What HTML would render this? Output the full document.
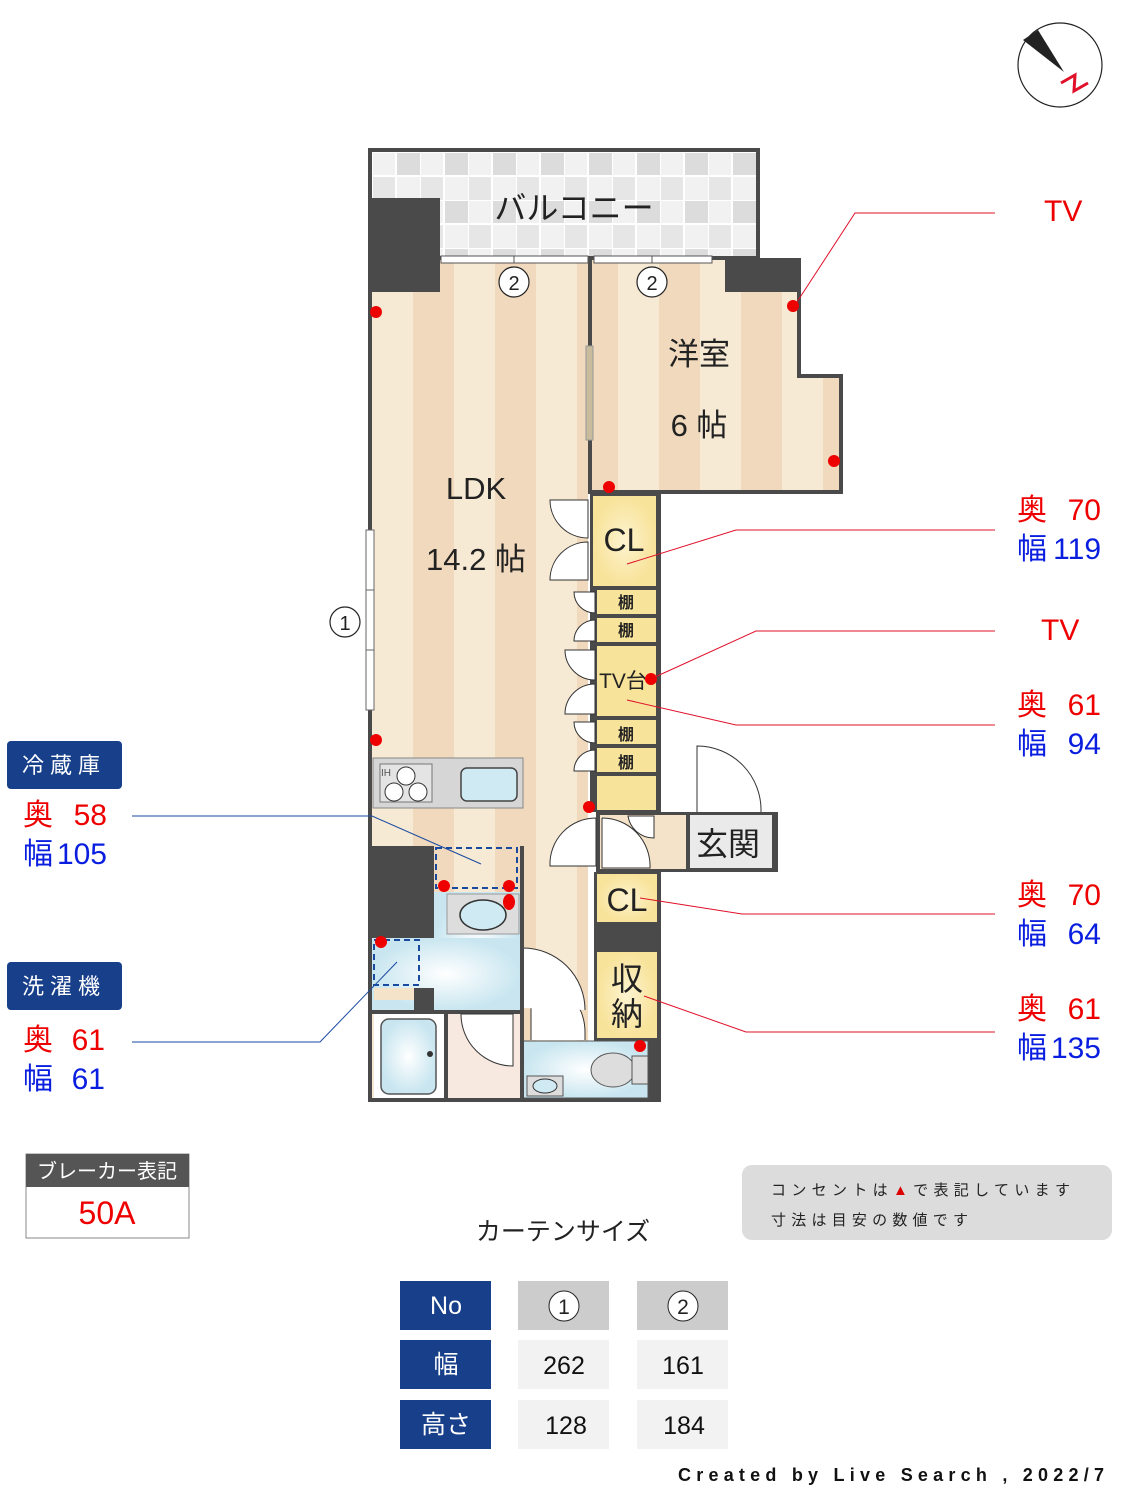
<!DOCTYPE html>
<html><head><meta charset="utf-8"><style>
html,body{margin:0;padding:0;background:#fff;}
svg{display:block;}
text{font-family:"Liberation Sans","Noto Sans CJK JP",sans-serif;}
</style></head><body>
<svg width="1125" height="1500" viewBox="0 0 1125 1500" xmlns="http://www.w3.org/2000/svg">
<defs>
<pattern id="st" x="372" y="0" width="82" height="10" patternUnits="userSpaceOnUse">
<rect width="82" height="10" fill="#f7ead5"/><rect x="41" width="41" height="10" fill="#f0d9bc"/>
</pattern>
<pattern id="tile" x="372" y="152" width="48" height="48" patternUnits="userSpaceOnUse">
<rect width="48" height="48" fill="#f1f1f1"/><rect x="24" y="0" width="24" height="24" fill="#dcdcdc"/><rect x="0" y="24" width="24" height="24" fill="#e6e6e6"/>
<path d="M0 0H48M0 24H48M0 0V48M24 0V48" stroke="#fff" stroke-width="2"/>
</pattern>
<radialGradient id="yl"><stop offset="0" stop-color="#fdf3cf"/><stop offset="1" stop-color="#f8e39a"/></radialGradient>
<radialGradient id="bl"><stop offset="0" stop-color="#ffffff"/><stop offset="1" stop-color="#c9e6f0"/></radialGradient>
</defs>

<!-- compass -->
<circle cx="1060" cy="65" r="42" fill="#fff" stroke="#222" stroke-width="1.2"/>
<path d="M1023 40 L1038 30 L1064 72 Z" fill="#222"/>
<path d="M1061 83 L1075 75 L1074 91 L1088 83" fill="none" stroke="#e0102a" stroke-width="3"/>

<!-- balcony -->
<rect x="370" y="150" width="388" height="108" fill="url(#tile)" stroke="#4a4a4a" stroke-width="4"/>
<text x="574" y="219" font-size="32" text-anchor="middle" fill="#222">バルコニー</text>

<rect x="372" y="260" width="216" height="840" fill="url(#st)"/>
<path d="M592 260 H798 V378 H840 V491 H592 Z" fill="url(#st)"/>
<path d="M370 150 V1100 H659 V492" fill="none" stroke="#4a4a4a" stroke-width="4"/>
<path d="M590 258 V492 H841 V376 H799 V258" fill="none" stroke="#4a4a4a" stroke-width="4"/>
<rect x="372" y="198" width="68" height="94" fill="#4a4a4a"/>
<rect x="725" y="258" width="75" height="34" fill="#4a4a4a"/>
<rect x="441" y="256" width="147" height="7" fill="#fff" stroke="#555" stroke-width="1"/>
<line x1="514" y1="256" x2="514" y2="263" stroke="#555"/>
<rect x="594" y="256" width="118" height="7" fill="#fff" stroke="#555" stroke-width="1"/>
<line x1="652" y1="256" x2="652" y2="263" stroke="#555"/>
<rect x="586" y="346" width="7" height="94" fill="#c8bc9c" stroke="#999"/>
<rect x="366" y="530" width="8" height="180" fill="#fff" stroke="#666"/>
<line x1="366" y1="590" x2="374" y2="590" stroke="#666"/><line x1="366" y1="650" x2="374" y2="650" stroke="#666"/>

<g fill="#fff" stroke="#222" stroke-width="1.2">
<circle cx="514" cy="282" r="15"/><circle cx="652" cy="282" r="15"/><circle cx="345" cy="622" r="15"/>
</g>
<g font-size="20" text-anchor="middle" fill="#222">
<text x="514" y="290">2</text><text x="652" y="290">2</text><text x="345" y="630">1</text>
</g>

<text x="476" y="499" font-size="31" text-anchor="middle" fill="#222">LDK</text>
<text x="476" y="570" font-size="31" text-anchor="middle" fill="#222">14.2 帖</text>
<text x="699" y="365" font-size="31" text-anchor="middle" fill="#222">洋室</text>
<text x="699" y="436" font-size="31" text-anchor="middle" fill="#222">6 帖</text>

<rect x="590" y="492" width="69" height="320" fill="#4a4a4a"/>
<rect x="593" y="496" width="63" height="90" fill="url(#yl)"/>
<rect x="597" y="590" width="59" height="24" fill="#f8e39a"/>
<rect x="597" y="618" width="59" height="24" fill="#f8e39a"/>
<rect x="597" y="646" width="59" height="70" fill="#f8e39a"/>
<rect x="597" y="720" width="59" height="24" fill="#f8e39a"/>
<rect x="597" y="748" width="59" height="24" fill="#f8e39a"/>
<rect x="597" y="776" width="59" height="34" fill="#f8e39a"/>
<text x="624" y="551" font-size="32" text-anchor="middle" fill="#222">CL</text>
<g font-size="16" text-anchor="middle" fill="#222" font-weight="bold">
<text x="626" y="608">棚</text><text x="626" y="636">棚</text><text x="626" y="740">棚</text><text x="626" y="768">棚</text>
</g>
<text x="623" y="688" font-size="21" text-anchor="middle" fill="#222">TV台</text>
<g fill="#fff" stroke="#333" stroke-width="1">
<path d="M588 500 V538 A38 38 0 0 1 550 500 Z"/>
<path d="M588 542 V580 H550 A38 38 0 0 1 588 542 Z"/>
<path d="M595 592 V613 A21 21 0 0 1 574 592 Z"/>
<path d="M595 620 V641 H574 A21 21 0 0 1 595 620 Z"/>
<path d="M595 650 V680 A30 30 0 0 1 565 650 Z"/>
<path d="M595 684 V714 H565 A30 30 0 0 1 595 684 Z"/>
<path d="M595 722 V743 A21 21 0 0 1 574 722 Z"/>
<path d="M595 750 V771 H574 A21 21 0 0 1 595 750 Z"/>
</g>

<rect x="596" y="812" width="182" height="60" fill="#4a4a4a"/>
<rect x="600" y="815" width="86" height="54" fill="#f4e3c8"/>
<rect x="690" y="815" width="82" height="53" fill="#eaeaea"/>
<text x="728" y="855" font-size="32" text-anchor="middle" fill="#222">玄関</text>
<path d="M697 812 V746 A64 64 0 0 1 761 812" fill="#fff" stroke="#333"/>
<path d="M596 818 V866 H550 A46 46 0 0 1 596 818" fill="#fff" stroke="#333"/>
<path d="M602 818 V868 H650 A48 48 0 0 0 602 818" fill="#fff" stroke="#333"/>
<path d="M628 816 A26 26 0 0 0 654 838 V816 Z" fill="#fff" stroke="#333"/>

<rect x="594" y="872" width="65" height="228" fill="#4a4a4a"/>
<rect x="597" y="874" width="60" height="48" fill="url(#yl)"/>
<text x="627" y="911" font-size="32" text-anchor="middle" fill="#222">CL</text>
<rect x="597" y="952" width="60" height="86" fill="url(#yl)"/>
<text x="627" y="990" font-size="32" text-anchor="middle" fill="#222">収</text>
<text x="627" y="1025" font-size="32" text-anchor="middle" fill="#222">納</text>

<rect x="523" y="1041" width="125" height="57" fill="url(#bl)" stroke="#555"/>
<ellipse cx="613" cy="1070" rx="22" ry="17" fill="#ddd" stroke="#555"/>
<rect x="632" y="1056" width="16" height="28" fill="#ddd" stroke="#555"/>
<rect x="527" y="1076" width="36" height="20" fill="#ddd" stroke="#555"/>
<ellipse cx="545" cy="1086" rx="12" ry="7" fill="#cfeaf3" stroke="#333"/>
<path d="M531 1040 V978 A54 54 0 0 1 585 1032 V1040" fill="#fff" stroke="#333"/>
<path d="M523 1008 V948 A62 62 0 0 1 585 1010" fill="#fff" stroke="#333"/>

<rect x="373" y="758" width="150" height="50" fill="#d6d6d6" stroke="#888"/>
<rect x="380" y="764" width="52" height="38" fill="#e4e4e4" stroke="#777"/>
<text x="381" y="776" font-size="10" fill="#555" font-family="Liberation Serif">IH</text>
<g fill="#fff" stroke="#333"><circle cx="406" cy="776" r="9"/><circle cx="394" cy="792" r="9"/><circle cx="418" cy="792" r="9"/></g>
<rect x="461" y="768" width="56" height="33" rx="6" fill="#cfeaf3" stroke="#444" stroke-width="1.5"/>
<rect x="436" y="848" width="81" height="40" fill="none" stroke="#1a4aa0" stroke-width="2" stroke-dasharray="6,4"/>

<rect x="372" y="846" width="62" height="92" fill="#4a4a4a"/>
<rect x="434" y="892" width="86" height="118" fill="url(#bl)"/>
<rect x="372" y="938" width="148" height="72" fill="url(#bl)"/>
<rect x="447" y="894" width="72" height="40" fill="#ddd" stroke="#999"/>
<ellipse cx="483" cy="915" rx="23" ry="15" fill="#cfeaf3" stroke="#333" stroke-width="1.5"/>
<rect x="374" y="940" width="45" height="45" fill="none" stroke="#1a4aa0" stroke-width="2" stroke-dasharray="6,4"/>
<rect x="374" y="988" width="40" height="12" fill="#f4e3c8"/>
<rect x="414" y="988" width="20" height="22" fill="#4a4a4a"/>
<rect x="520" y="846" width="4" height="164" fill="#4a4a4a"/>
<rect x="372" y="1010" width="152" height="4" fill="#4a4a4a"/>
<rect x="374" y="1014" width="70" height="84" fill="#fff"/>
<rect x="381" y="1019" width="55" height="75" rx="8" fill="url(#bl)" stroke="#555" stroke-width="1.5"/>
<circle cx="430" cy="1054" r="3" fill="#333"/>
<rect x="444" y="1014" width="4" height="86" fill="#4a4a4a"/>
<rect x="448" y="1014" width="72" height="84" fill="#f7e8e0"/>
<path d="M513 1014 V1066 A52 52 0 0 1 461 1014 Z" fill="#fff" stroke="#333"/>
<rect x="520" y="1014" width="4" height="86" fill="#4a4a4a"/>

<g fill="#e00">
<ellipse cx="376" cy="312" rx="6" ry="6"/><ellipse cx="376" cy="740" rx="6" ry="6"/>
<ellipse cx="793" cy="306" rx="6" ry="6"/><ellipse cx="834" cy="461" rx="6" ry="6"/>
<ellipse cx="609" cy="487" rx="6" ry="6"/><ellipse cx="651" cy="679" rx="6" ry="6"/>
<ellipse cx="589" cy="807" rx="6" ry="6"/><ellipse cx="444" cy="886" rx="6" ry="6"/>
<ellipse cx="509" cy="886" rx="6" ry="6"/><ellipse cx="509" cy="902" rx="6" ry="8"/>
<ellipse cx="381" cy="942" rx="6" ry="6"/><ellipse cx="640" cy="1046" rx="6" ry="6"/>
</g>

<g fill="none" stroke="#e0102a" stroke-width="1">
<polyline points="797,302 855,213 995,213"/>
<polyline points="627,564 736,530 995,530"/>
<polyline points="655,677 756,631 995,631"/>
<polyline points="627,700 736,725 995,725"/>
<polyline points="640,898 742,914 995,914"/>
<polyline points="644,996 746,1032 995,1032"/>
</g>
<g fill="none" stroke="#1a4aa0" stroke-width="1">
<polyline points="132,816 372,816 481,864"/>
<polyline points="132,1042 320,1042 397,962"/>
</g>

<g font-size="30">
<text x="1044" y="221" fill="#e00">TV</text>
<text x="1041" y="640" fill="#e00">TV</text>
<text x="1017" y="520" fill="#e00">奥</text><text x="1101" y="520" fill="#e00" text-anchor="end">70</text>
<text x="1017" y="559" fill="#0a1ee0">幅</text><text x="1101" y="559" fill="#0a1ee0" text-anchor="end">119</text>
<text x="1017" y="715" fill="#e00">奥</text><text x="1101" y="715" fill="#e00" text-anchor="end">61</text>
<text x="1017" y="754" fill="#0a1ee0">幅</text><text x="1101" y="754" fill="#0a1ee0" text-anchor="end">94</text>
<text x="1017" y="905" fill="#e00">奥</text><text x="1101" y="905" fill="#e00" text-anchor="end">70</text>
<text x="1017" y="944" fill="#0a1ee0">幅</text><text x="1101" y="944" fill="#0a1ee0" text-anchor="end">64</text>
<text x="1017" y="1019" fill="#e00">奥</text><text x="1101" y="1019" fill="#e00" text-anchor="end">61</text>
<text x="1017" y="1058" fill="#0a1ee0">幅</text><text x="1101" y="1058" fill="#0a1ee0" text-anchor="end">135</text>
</g>

<rect x="7" y="741" width="115" height="48" rx="4" fill="#173f8a"/>
<text x="64" y="773" font-size="22" fill="#fff" text-anchor="middle" letter-spacing="6">冷蔵庫</text>
<rect x="7" y="962" width="115" height="48" rx="4" fill="#173f8a"/>
<text x="64" y="994" font-size="22" fill="#fff" text-anchor="middle" letter-spacing="6">洗濯機</text>
<g font-size="30">
<text x="23" y="825" fill="#e00">奥</text><text x="107" y="825" fill="#e00" text-anchor="end">58</text>
<text x="23" y="864" fill="#0a1ee0">幅</text><text x="107" y="864" fill="#0a1ee0" text-anchor="end">105</text>
<text x="23" y="1050" fill="#e00">奥</text><text x="105" y="1050" fill="#e00" text-anchor="end">61</text>
<text x="23" y="1089" fill="#0a1ee0">幅</text><text x="105" y="1089" fill="#0a1ee0" text-anchor="end">61</text>
</g>

<rect x="26" y="1154" width="163" height="84" fill="#fff" stroke="#888"/>
<rect x="26" y="1154" width="163" height="33" fill="#555"/>
<text x="107" y="1178" font-size="20" fill="#fff" text-anchor="middle">ブレーカー表記</text>
<text x="107" y="1224" font-size="32" fill="#e00" text-anchor="middle">50A</text>

<rect x="742" y="1165" width="370" height="75" rx="10" fill="#dcdcdc"/>
<text x="771" y="1195" font-size="15" fill="#222" textLength="299" lengthAdjust="spacing">コンセントは<tspan fill="#d00">▲</tspan>で表記しています</text>
<text x="771" y="1225" font-size="15" fill="#222" textLength="197" lengthAdjust="spacing">寸法は目安の数値です</text>

<text x="563" y="1240" font-size="25" fill="#222" text-anchor="middle">カーテンサイズ</text>
<g>
<rect x="400" y="1281" width="91" height="49" fill="#173f8a"/>
<rect x="400" y="1340" width="91" height="49" fill="#173f8a"/>
<rect x="400" y="1400" width="91" height="49" fill="#173f8a"/>
<rect x="518" y="1281" width="91" height="49" fill="#cccccc"/>
<rect x="637" y="1281" width="91" height="49" fill="#cccccc"/>
<rect x="518" y="1340" width="91" height="49" fill="#f2f2f2"/>
<rect x="637" y="1340" width="91" height="49" fill="#f2f2f2"/>
<rect x="518" y="1400" width="91" height="49" fill="#f2f2f2"/>
<rect x="637" y="1400" width="91" height="49" fill="#f2f2f2"/>
</g>
<g font-size="25" text-anchor="middle">
<text x="446" y="1314" fill="#fff">No</text>
<text x="446" y="1373" fill="#fff">幅</text>
<text x="446" y="1433" fill="#fff">高さ</text>
<text x="564" y="1374" fill="#111">262</text>
<text x="683" y="1374" fill="#111">161</text>
<text x="566" y="1434" fill="#111">128</text>
<text x="684" y="1434" fill="#111">184</text>
</g>
<circle cx="564" cy="1306" r="15" fill="#fff" stroke="#222"/>
<circle cx="683" cy="1306" r="15" fill="#fff" stroke="#222"/>
<text x="564" y="1314" font-size="21" text-anchor="middle" fill="#222">1</text>
<text x="683" y="1314" font-size="21" text-anchor="middle" fill="#222">2</text>

<text x="678" y="1481" font-size="18" fill="#111" textLength="426" lengthAdjust="spacing" font-family="Liberation Mono" font-weight="bold">Created by Live Search , 2022/7</text>
</svg>
</body></html>
